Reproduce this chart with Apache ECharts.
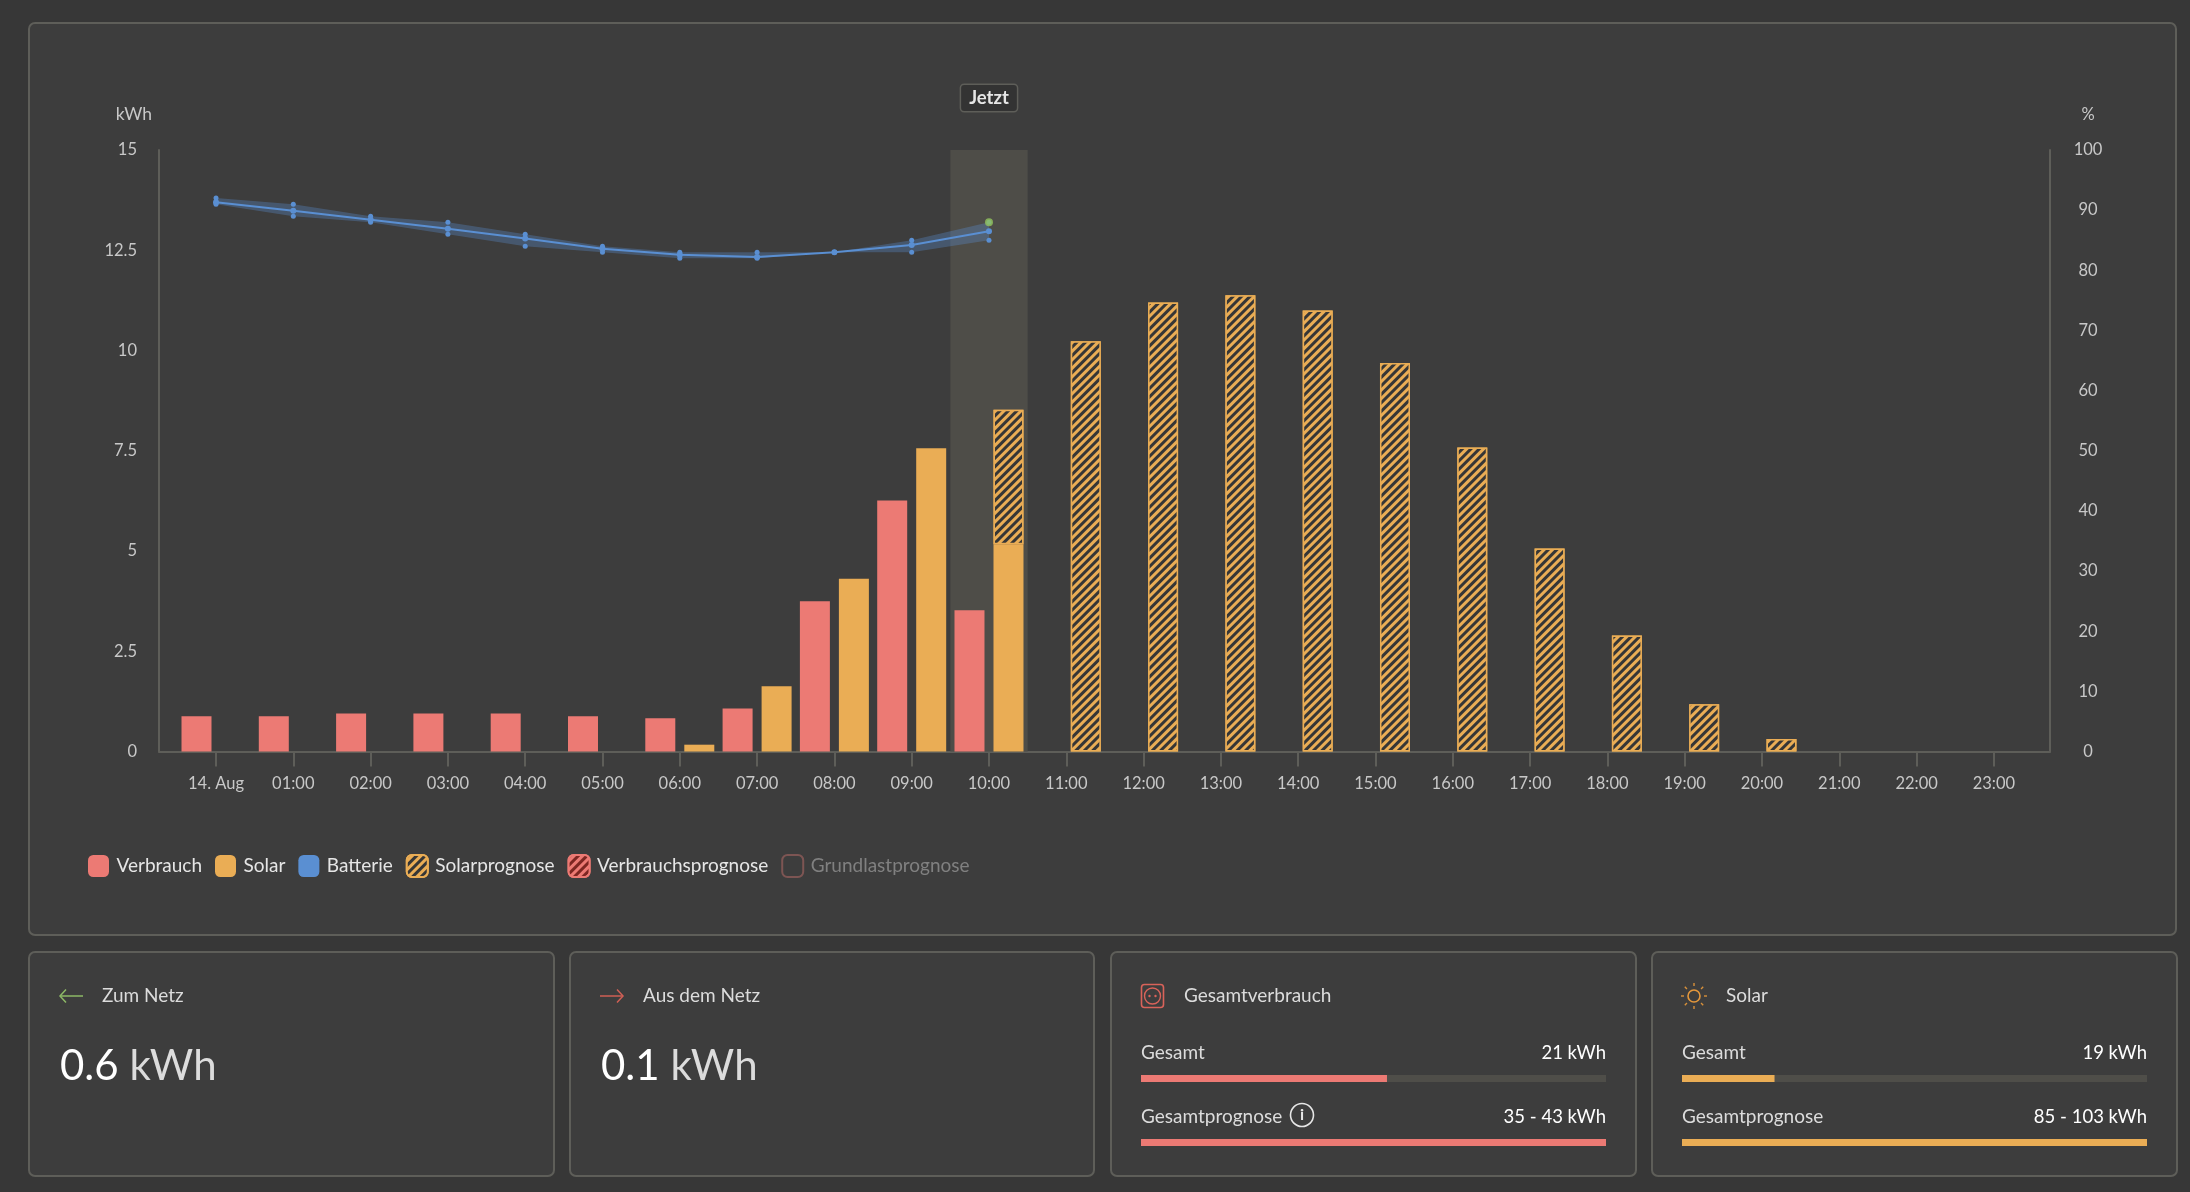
<!DOCTYPE html>
<html><head><meta charset="utf-8">
<style>html,body{margin:0;padding:0;background:#373737}#c{width:2190px;height:1192px}</style>
<script src="https://cdn.jsdelivr.net/npm/echarts@6/dist/echarts.min.js"></script>
</head><body><div id="c"></div>
<script>
const hours=[0,1,2,3,4,5,6,7,8,9,10,11,12,13,14,15,16,17,18,19,20,21,22,23];
const hourLabels=['14. Aug','01:00','02:00','03:00','04:00','05:00','06:00','07:00','08:00','09:00','10:00','11:00','12:00','13:00','14:00','15:00','16:00','17:00','18:00','19:00','20:00','21:00','22:00','23:00'];
const verbrauch=[0.88,0.88,0.95,0.95,0.95,0.88,0.83,1.07,3.75,6.26,3.52];
const solar=[null,null,null,null,null,null,0.17,1.63,4.31,7.56,5.17];
const solarPrognose=[null,null,null,null,null,null,null,null,null,null,3.35,10.23,11.2,11.38,11.0,9.69,7.58,5.06,2.89,1.18,0.31];
const batterie=[91.3,89.9,88.4,86.9,85.3,83.6,82.6,82.2,83.0,84.2,86.5];
const batterieOben=[92,91,89,88,86,84,83,83,83,85,88];
const batterieUnten=[91,89,88,86,84,83,82,82,83,83,85];
const batterieAktuell=88;
const leftTicks=[0,2.5,5,7.5,10,12.5,15];
const rightTicks=[0,10,20,30,40,50,60,70,80,90,100];
const gesamtverbrauchAnteil=[0.529,1];
const solarAnteil=[0.199,1];

const RED='#ec7a74',ORG='#eaad55',BLU='#5a8fd2',BAND='#4f4e49';
const FONT='Lato';
// value first, hour second: on two value axes ECharts stacks the first column
const pairs=(a)=>a.map((v,i)=>[v,hours[i]]);
const enc={x:1,y:0};
const hatch=(c)=>({symbol:'rect',symbolSize:1,color:c,dashArrayX:[[1,0]],dashArrayY:[2.3,2.7],rotation:-Math.PI/4});

function card(x,y,w,h){return {type:'rect',z:-5,shape:{x,y,width:w,height:h,r:6},style:{fill:'#3d3d3d',stroke:'#5e5e59',lineWidth:2}};}
function txt(x,y,t,o){o=o||{};return {type:'text',z:5,x,y,style:Object.assign({text:t,fill:'#dcdcdc',font:'19px '+FONT,textAlign:'left',textVerticalAlign:'middle'},o)};}
function big(x,y,a,b){return {type:'text',z:5,x,y,style:{rich:{a:{fill:'#fff',font:'42px '+FONT},b:{fill:'#dcdcdc',font:'42px '+FONT}},text:'{a|'+a+' }{b|'+b+'}',textVerticalAlign:'middle'}};}
function line(pts,c,lw){return {type:'polyline',z:5,shape:{points:pts},style:{stroke:c||'#888',lineWidth:lw||1.5,fill:'none'}};}

const sunRays=[];
for(let i=0;i<8;i++){const a=i*Math.PI/4;sunRays.push({type:'line',z:5,shape:{x1:1694+Math.cos(a)*10,y1:996+Math.sin(a)*10,x2:1694+Math.cos(a)*13,y2:996+Math.sin(a)*13},style:{stroke:'#d9913a',lineWidth:1.4}});}
const valOpt={textAlign:'right',fill:'#fff',font:'18.5px '+FONT};

const graphic=[
 card(29,23,2147,912),card(29,952,525,224),card(570,952,524,224),card(1111,952,525,224),card(1652,952,525,224),
 line([[60,996],[83,996]],'#8cb866'),line([[66,989.5],[60,996],[66,1002.5]],'#8cb866'),
 txt(102,996,'Zum Netz'),big(60,1066,'0.6','kWh'),
 line([[600,996],[623,996]],'#cf5f55'),line([[617,989.5],[623,996],[617,1002.5]],'#cf5f55'),
 txt(643,996,'Aus dem Netz'),big(601,1066,'0.1','kWh'),
 {type:'rect',z:5,shape:{x:1141.5,y:984.5,width:22,height:23,r:3},style:{fill:'none',stroke:'#d9635a',lineWidth:1.6}},
 {type:'circle',z:5,shape:{cx:1152.5,cy:996,r:8},style:{fill:'none',stroke:'#d9635a',lineWidth:1.4}},
 {type:'circle',z:5,shape:{cx:1149.5,cy:996,r:1.2},style:{fill:'#d9635a'}},
 {type:'circle',z:5,shape:{cx:1155.5,cy:996,r:1.2},style:{fill:'#d9635a'}},
 txt(1184,996,'Gesamtverbrauch'),
 txt(1141,1053,'Gesamt'),txt(1606,1053,'21 kWh',valOpt),
 txt(1141,1117,'Gesamtprognose'),txt(1606,1117,'35 - 43 kWh',valOpt),
 {type:'circle',z:5,shape:{cx:1302,cy:1115,r:11.5},style:{fill:'none',stroke:'#e6e6e6',lineWidth:1.6}},
 txt(1302,1115,'i',{textAlign:'center',fill:'#e6e6e6',font:'bold 16px '+FONT}),
 {type:'circle',z:5,shape:{cx:1694,cy:996,r:6},style:{fill:'none',stroke:'#e5983c',lineWidth:1.6}},
 ...sunRays,
 txt(1726,996,'Solar'),
 txt(1682,1053,'Gesamt'),txt(2147,1053,'19 kWh',valOpt),
 txt(1682,1117,'Gesamtprognose'),txt(2147,1117,'85 - 103 kWh',valOpt)
];

const barsDef=[[1141,1075,gesamtverbrauchAnteil[0],RED],[1141,1139,gesamtverbrauchAnteil[1],RED],[1682,1075,solarAnteil[0],ORG],[1682,1139,solarAnteil[1],ORG]];
const grids=[{left:159,right:140,top:150,bottom:440.5}];
const xAxes=[{type:'value',min:-0.7374,max:23.726,gridIndex:0,splitLine:{show:false},
  axisLine:{show:true,onZero:false,lineStyle:{color:'#5e5e59',width:2}},
  axisTick:{show:true,length:15,lineStyle:{color:'#5e5e59',width:2},customValues:hours},
  axisLabel:{customValues:hours,color:'#c8c8c8',fontFamily:FONT,fontSize:16.5,margin:24,formatter:(v)=>hourLabels[v]}}];
const yAxes=[
 {type:'value',min:0,max:15,interval:2.5,gridIndex:0,name:'kWh',nameLocation:'end',nameGap:27,nameTextStyle:{color:'#c8c8c8',fontFamily:FONT,fontSize:17.5,align:'right',padding:[0,7,0,0]},
  splitLine:{show:false},axisTick:{show:false},axisLine:{show:true,onZero:false,lineStyle:{color:'#5e5e59',width:2}},
  axisLabel:{color:'#c8c8c8',fontFamily:FONT,fontSize:16.5,margin:22,padding:[4,0,0,0],customValues:leftTicks}},
 {type:'value',min:0,max:100,interval:10,position:'right',gridIndex:0,name:'%',nameLocation:'end',nameGap:27,nameTextStyle:{color:'#c8c8c8',fontFamily:FONT,fontSize:16.5,align:'center',padding:[0,0,0,76]},
  splitLine:{show:false},axisTick:{show:false},axisLine:{show:true,onZero:false,lineStyle:{color:'#5e5e59',width:2}},
  axisLabel:{color:'#c8c8c8',fontFamily:FONT,fontSize:16.5,margin:38,align:'center',padding:[4,0,0,0],customValues:rightTicks}}
];
const series=[
 {name:'Verbrauch',type:'bar',xAxisIndex:0,yAxisIndex:0,stack:'v',encode:enc,barWidth:30,barGap:'30%',itemStyle:{color:RED},data:pairs(verbrauch),z:3},
 {name:'Solar',type:'bar',xAxisIndex:0,yAxisIndex:0,stack:'s',encode:enc,barWidth:30,barGap:'30%',itemStyle:{color:ORG},data:pairs(solar),z:3,
  markArea:{silent:true,itemStyle:{color:'#4e4d48'},label:{show:true,position:'top',distance:39,formatter:'Jetzt',color:'#e6e6e6',fontFamily:FONT,fontSize:18.5,fontWeight:'bold',backgroundColor:'#333333',borderColor:'#5e5e59',borderWidth:1.5,borderRadius:3,padding:[4,8,3,8]},
   data:[[{xAxis:9.5},{xAxis:10.5}]]}},
 {name:'Solarprognose',type:'bar',xAxisIndex:0,yAxisIndex:0,stack:'s',encode:enc,barWidth:30,itemStyle:{color:ORG,borderColor:ORG,borderWidth:1.5,decal:hatch('#363636')},data:pairs(solarPrognose),z:3},
 {name:'Verbrauchsprognose',type:'bar',xAxisIndex:0,yAxisIndex:0,stack:'v',encode:enc,barWidth:30,itemStyle:{color:RED,borderColor:RED,borderWidth:1.5,decal:hatch('#7d2622')},data:[],z:3},
 {name:'Grundlastprognose',type:'line',xAxisIndex:0,yAxisIndex:0,encode:enc,data:[],itemStyle:{color:'#7d5553'}},
 {name:'Batterie-Unten',type:'line',xAxisIndex:0,yAxisIndex:1,stack:'b',encode:enc,data:pairs(batterieUnten),symbol:'circle',symbolSize:5,showSymbol:true,itemStyle:{color:BLU},lineStyle:{width:0},z:6},
 {name:'Batterie-Oben',type:'line',xAxisIndex:0,yAxisIndex:1,stack:'b',encode:enc,data:pairs(batterieOben.map((v,i)=>v-batterieUnten[i])),symbol:'circle',symbolSize:5,showSymbol:true,itemStyle:{color:BLU},lineStyle:{width:0},areaStyle:{color:BLU,opacity:.33},z:6},
 {name:'Batterie',type:'line',xAxisIndex:0,yAxisIndex:1,encode:enc,data:pairs(batterie),symbol:'circle',symbolSize:6,showSymbol:true,itemStyle:{color:BLU},lineStyle:{color:BLU,width:2},z:7},
 {name:'Aktuell',type:'scatter',xAxisIndex:0,yAxisIndex:1,encode:enc,data:[[batterieAktuell,hours[10]]],symbolSize:8,itemStyle:{color:'#92c45c'},z:8}
];
barsDef.forEach((b,i)=>{
 const gi=i+1;
 grids.push({left:b[0],top:b[1],width:465,height:7});
 xAxes.push({type:'value',gridIndex:gi,min:0,max:1,show:false});
 yAxes.push({type:'category',gridIndex:gi,data:[''],show:false});
 series.push({type:'bar',name:'p'+i,xAxisIndex:i+1,yAxisIndex:i+2,barWidth:7,data:[b[2]],itemStyle:{color:b[3]},showBackground:true,backgroundStyle:{color:BAND},silent:true});
});

const chart=echarts.init(document.getElementById('c'),null,{renderer:'canvas'});
chart.setOption({
 backgroundColor:'#373737',animation:false,textStyle:{fontFamily:FONT},
 grid:grids,xAxis:xAxes,yAxis:yAxes,series,graphic,
 legend:{left:88,top:854,padding:0,icon:'roundRect',itemWidth:21,itemHeight:22,itemGap:13,selectedMode:false,
  textStyle:{color:'#e6e6e6',fontFamily:FONT,fontSize:19,padding:[0,0,0,2.5]},
  data:[{name:'Verbrauch',itemStyle:{color:RED}},{name:'Solar',itemStyle:{color:ORG}},{name:'Batterie',itemStyle:{color:BLU}},
   {name:'Solarprognose'},{name:'Verbrauchsprognose'},
   {name:'Grundlastprognose',itemStyle:{color:'rgba(0,0,0,0)',borderColor:'#7d5553',borderWidth:2},textStyle:{color:'#808080'}}]}
});
</script></body></html>
